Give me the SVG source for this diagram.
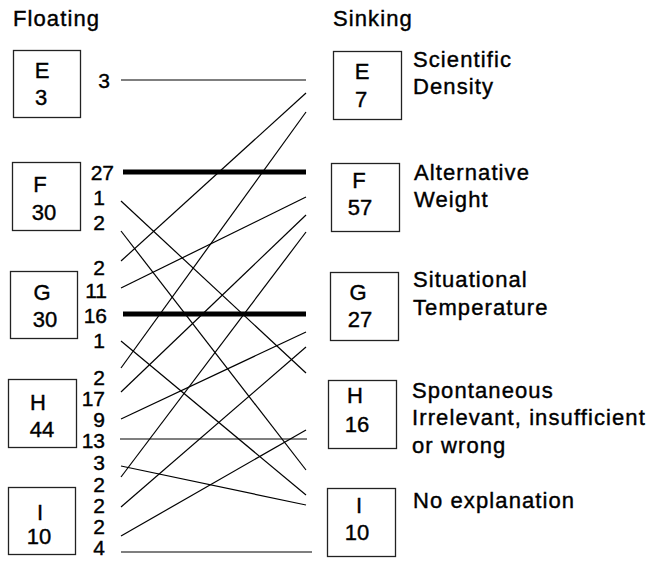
<svg xmlns="http://www.w3.org/2000/svg" width="647" height="561" viewBox="0 0 647 561">
<style>
text{font-family:"Liberation Sans",Arial,sans-serif;font-size:22px;fill:#000;stroke:#000;stroke-width:0.4}
.t{letter-spacing:1.1px}
.c{text-anchor:middle}
.n{text-anchor:end;font-size:21px}
.box{fill:#fff;stroke:#222;stroke-width:1.3}
.ln{stroke:#000;stroke-width:1.2;fill:none}
.thick{stroke:#000;stroke-width:5;fill:none}
</style>
<rect width="647" height="561" fill="#fff"/>
<text class="t" x="13" y="26">Floating</text>
<text class="t" x="333" y="26">Sinking</text>

<g id="connectors">
<line class="ln" x1="121" y1="80" x2="306" y2="80"/>
<line class="thick" x1="123" y1="172" x2="306" y2="172"/>
<line class="ln" x1="121" y1="201" x2="306" y2="373"/>
<line class="ln" x1="121" y1="231" x2="306" y2="470"/>
<line class="ln" x1="121" y1="261" x2="306" y2="93"/>
<line class="ln" x1="121" y1="288" x2="306" y2="197"/>
<line class="thick" x1="123" y1="314" x2="306" y2="314"/>
<line class="ln" x1="121" y1="341" x2="306" y2="495"/>
<line class="ln" x1="121" y1="368" x2="306" y2="112"/>
<line class="ln" x1="121" y1="392" x2="306" y2="215"/>
<line class="ln" x1="121" y1="419" x2="306" y2="332"/>
<line class="ln" x1="120" y1="439" x2="307" y2="439"/>
<line class="ln" x1="121" y1="466" x2="306" y2="505"/>
<line class="ln" x1="121" y1="477" x2="306" y2="232"/>
<line class="ln" x1="121" y1="507" x2="306" y2="347"/>
<line class="ln" x1="121" y1="536" x2="306" y2="430"/>
<line class="ln" x1="121" y1="552" x2="312" y2="552"/>
</g>

<g id="flow-labels">
<text class="n" x="110" y="88">3</text>
<text class="n" x="114" y="180">27</text>
<text class="n" x="105" y="205">1</text>
<text class="n" x="105" y="230">2</text>
<text class="n" x="105" y="275">2</text>
<text class="n" x="107" y="298">11</text>
<text class="n" x="107" y="323">16</text>
<text class="n" x="105" y="348">1</text>
<text class="n" x="105" y="385">2</text>
<text class="n" x="105" y="406">17</text>
<text class="n" x="105" y="427">9</text>
<text class="n" x="105" y="448">13</text>
<text class="n" x="105" y="470">3</text>
<text class="n" x="105" y="492">2</text>
<text class="n" x="105" y="513">2</text>
<text class="n" x="105" y="534">2</text>
<text class="n" x="105" y="555">4</text>
</g>

<g id="float-E"><rect class="box" x="13.5" y="50.5" width="67" height="67"/><text class="c" x="42" y="78">E</text><text class="c" x="41" y="105">3</text></g>
<g id="float-F"><rect class="box" x="12.5" y="162.5" width="68" height="68"/><text class="c" x="40" y="192">F</text><text class="c" x="44" y="220">30</text></g>
<g id="float-G"><rect class="box" x="10.5" y="271.5" width="67" height="67"/><text class="c" x="42" y="300">G</text><text class="c" x="45" y="327">30</text></g>
<g id="float-H"><rect class="box" x="8.5" y="379.5" width="68" height="68"/><text class="c" x="38" y="410">H</text><text class="c" x="42" y="437">44</text></g>
<g id="float-I"><rect class="box" x="8.5" y="487.5" width="67" height="67"/><text class="c" x="40" y="520">I</text><text class="c" x="39" y="544">10</text></g>

<g id="sink-E"><rect class="box" x="333.5" y="51.5" width="68" height="68"/><text class="c" x="362" y="79">E</text><text class="c" x="361" y="107">7</text><text class="t" x="413" y="67">Scientific</text><text class="t" x="413" y="94">Density</text></g>
<g id="sink-F"><rect class="box" x="331.5" y="163.5" width="68" height="68"/><text class="c" x="359" y="188">F</text><text class="c" x="360" y="215">57</text><text class="t" x="414" y="180">Alternative</text><text class="t" x="414" y="207">Weight</text></g>
<g id="sink-G"><rect class="box" x="330.5" y="272.5" width="68" height="68"/><text class="c" x="358" y="300">G</text><text class="c" x="360" y="327">27</text><text class="t" x="413" y="287">Situational</text><text class="t" x="413" y="315">Temperature</text></g>
<g id="sink-H"><rect class="box" x="328.5" y="380.5" width="68" height="68"/><text class="c" x="355" y="403">H</text><text class="c" x="357" y="432">16</text><text class="t" x="412" y="398">Spontaneous</text><text class="t" x="412" y="425">Irrelevant, insufficient</text><text class="t" x="412" y="453">or wrong</text></g>
<g id="sink-I"><rect class="box" x="327.5" y="488.5" width="68" height="68"/><text class="c" x="359" y="513">I</text><text class="c" x="357" y="540">10</text><text class="t" x="413" y="508">No explanation</text></g>
</svg>
